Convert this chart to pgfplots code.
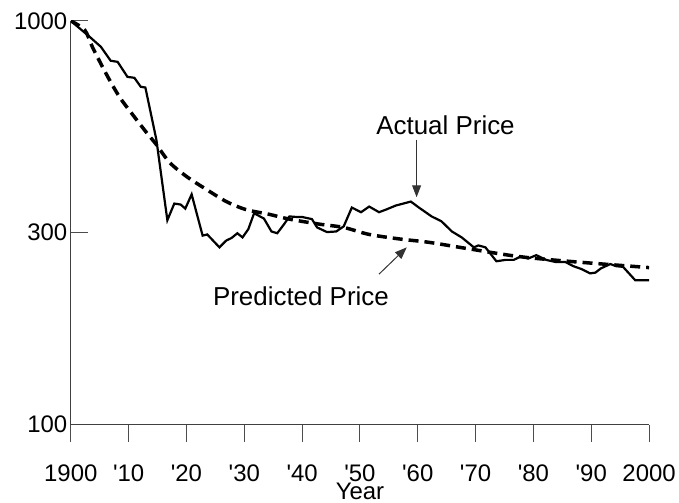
\documentclass[border=0pt]{standalone}
\usepackage{fontspec}
\setmainfont{Liberation Sans}
\usepackage{pgfplots}
\pgfplotsset{compat=1.18}
\usetikzlibrary{arrows.meta}

\begin{document}
\begin{tikzpicture}
\begin{axis}[
    scale only axis,
    width=580bp, height=405bp,
    ymode=log,
    xmin=1900, xmax=2000,
    ymin=100, ymax=1000,
    axis x line*=bottom,
    axis y line*=left,
    tick pos=left,
    axis line style={black!75, line width=1bp},
    every tick/.style={black!70, line width=1bp},
    xtick align=outside,
    ytick align=inside,
    major tick length=17bp,
    minor tick length=0pt,
    xtick={1900,1910,...,2000},
    xticklabels={1900,\textquotesingle10,\textquotesingle20,\textquotesingle30,\textquotesingle40,\textquotesingle50,\textquotesingle60,\textquotesingle70,\textquotesingle80,\textquotesingle90,2000},
    xticklabel shift=20bp,
    ytick={100,300,1000},
    yticklabels={100,300,1000},
    font=\fontsize{24bp}{28bp}\selectfont,
    xlabel={Year},
    xlabel style={yshift=6bp},
]
    % actual price
    \addplot[black, line width=2.2bp] coordinates {
        (1900,1000) (1903.2,915) (1905.2,863) (1906.9,797) (1908.1,792)
        (1909.8,727) (1911.0,723) (1912.1,687) (1912.9,684) (1914.8,508)
        (1916.7,321) (1917.9,353) (1919.0,351) (1919.8,343) (1920.9,372)
        (1922.8,294) (1923.6,296) (1925.7,275) (1926.9,286) (1927.8,290)
        (1928.8,298) (1929.7,291) (1930.7,305) (1931.7,334) (1933.4,324)
        (1934.7,301) (1935.7,298) (1936.9,314) (1937.8,328) (1939.0,327)
        (1940.0,327) (1941.7,323) (1942.6,308) (1944.3,300) (1945.9,301)
        (1947.2,310) (1948.6,345) (1950.2,336) (1951.6,347) (1953.3,336)
        (1954.5,341) (1956.2,349) (1958.8,357) (1960.2,345) (1962.4,328)
        (1964.1,319) (1965.9,301) (1967.6,291) (1969.7,275) (1970.5,278)
        (1971.7,275) (1973.6,254) (1975.2,256) (1976.6,256) (1977.8,261)
        (1979.1,258) (1980.5,263) (1982.2,256) (1983.8,253) (1985.5,253)
        (1986.9,247) (1988.3,243) (1989.8,237) (1990.7,238) (1991.7,244)
        (1993.3,250) (1994.3,247) (1995.5,246) (1997.6,228) (2000,228)
    };
    % predicted price
    \addplot[black, line width=3.5bp, dash pattern=on 10bp off 6bp, smooth] coordinates {
        (1900,1000) (1902.4,950) (1903.8,858) (1906.2,736) (1908.4,649)
        (1910.7,586) (1913.1,529) (1914.8,494) (1917.1,446) (1920.0,412)
        (1923.4,383) (1926.9,357) (1930.3,341) (1934.3,332) (1937.8,323)
        (1942.9,314) (1947.2,308) (1951.6,296) (1957.2,288) (1961.9,283)
        (1969.3,272) (1977.4,261) (1986.0,254) (2000,245)
    };
    \draw[black!80, line width=1bp, -{Triangle[length=12bp,width=9bp]}]
        (1959.8,508) -- (1959.8,366);
    \node[black, font=\fontsize{26bp}{30bp}\selectfont] at (1964.8,551) {Actual Price};
    \draw[black!80, line width=1bp, -{Triangle[length=12bp,width=9bp]}]
        (1953.3,236) -- (1958.1,275);
    \node[black, font=\fontsize{26bp}{30bp}\selectfont] at (1939.8,208) {Predicted Price};
\end{axis}
\path ([xshift=-71bp,yshift=-78bp]current axis.south west)
    rectangle ([xshift=28bp,yshift=21bp]current axis.north east);
\end{tikzpicture}
\end{document}
